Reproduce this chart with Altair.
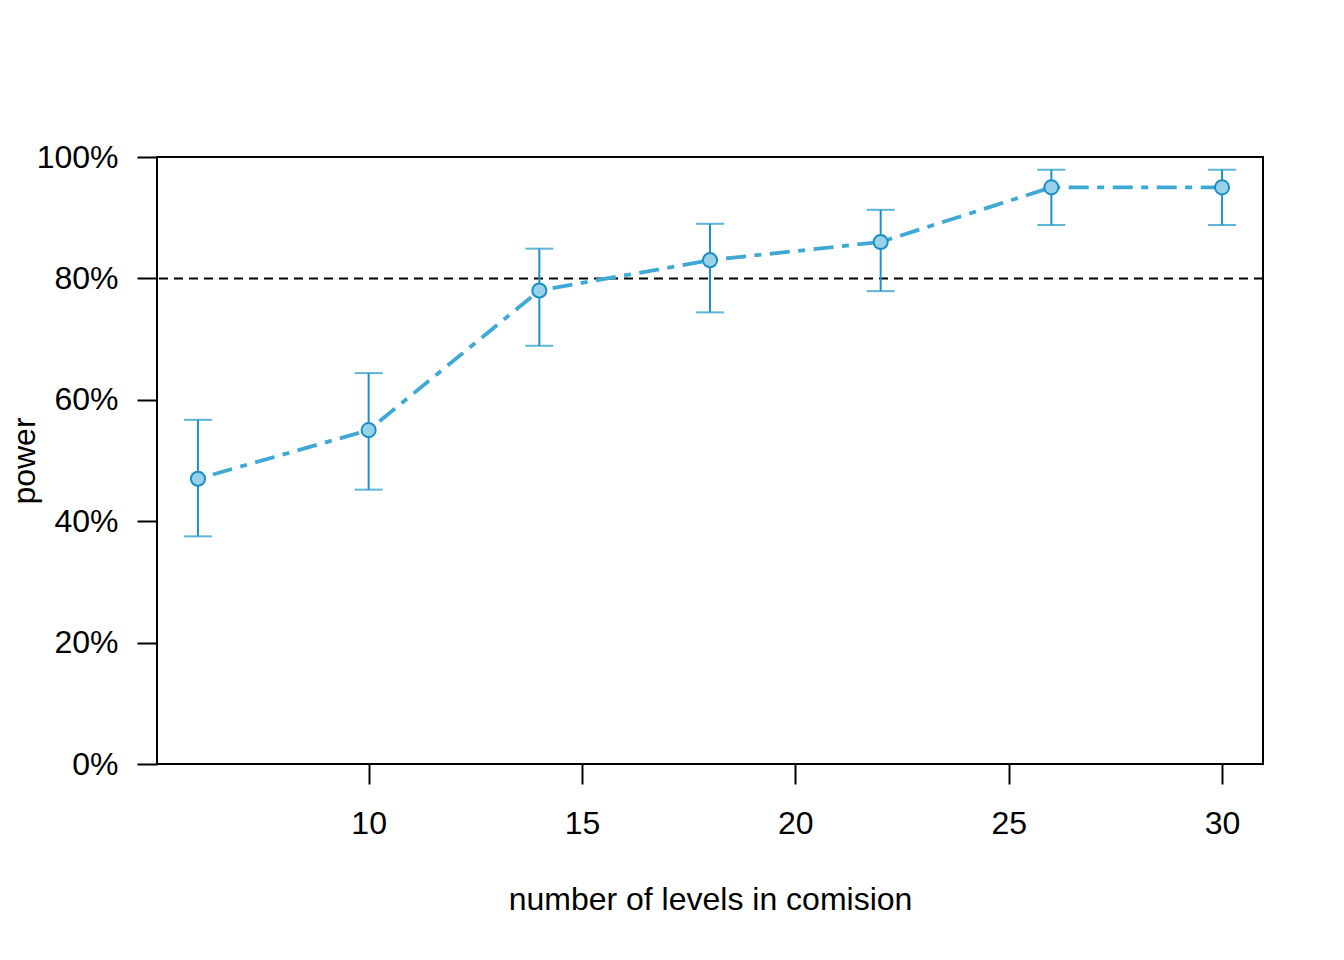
import altair as alt
import pandas as pd

levels = [6, 10, 14, 18, 22, 26, 30]
power = [0.47, 0.55, 0.78, 0.83, 0.86, 0.95, 0.95]
lower = [0.375, 0.452, 0.689, 0.744, 0.779, 0.888, 0.888]
upper = [0.567, 0.644, 0.849, 0.890, 0.913, 0.979, 0.979]
target = [0.8]
x_ticks = [10, 15, 20, 25, 30]
y_ticks = [0, 0.2, 0.4, 0.6, 0.8, 1.0]

df = pd.DataFrame({"levels": levels, "power": power, "lower": lower, "upper": upper})
ref = pd.DataFrame({"target": target})

FONT = "Liberation Sans"
FS = 32
LINE_COL = "#3fa9d6"
BAR_COL = "#1a95c9"
FILL_COL = "#98d1ea"

xscale = alt.Scale(domain=[5.04, 30.96], nice=False, zero=False)
yscale = alt.Scale(domain=[0, 1], nice=False, zero=True)

xenc = alt.X(
    "levels:Q",
    scale=xscale,
    title="number of levels in comision",
    axis=alt.Axis(
        values=x_ticks, tickSize=20, tickWidth=2, tickColor="black",
        domain=False, grid=False, labelFontSize=FS, labelFont=FONT,
        labelColor="black", labelPadding=24, labelFlush=False,
        titleFontSize=FS, titleFont=FONT, titleFontWeight="normal",
        titleColor="black", titleX=553, titleY=145, titleAlign="center",
        titleBaseline="alphabetic",
    ),
)
yenc = alt.Y(
    "power:Q",
    scale=yscale,
    title="power",
    axis=alt.Axis(
        values=y_ticks, format=".0%", tickSize=20, tickWidth=2, tickColor="black",
        domain=False, grid=False, labelFontSize=FS, labelFont=FONT,
        labelColor="black", labelPadding=19, labelBaseline="middle", labelFlush=False,
        titleFontSize=FS, titleFont=FONT, titleFontWeight="normal",
        titleColor="black", titleX=-123, titleY=303.5, titleAngle=270,
        titleAlign="center", titleBaseline="alphabetic",
    ),
)

refline = alt.Chart(ref).mark_rule(color="black", strokeWidth=2, strokeDash=[9, 6]).encode(
    y=alt.Y("target:Q", scale=yscale)
)

line = alt.Chart(df).mark_line(
    color=LINE_COL, strokeWidth=3.8, strokeDash=[7, 8.5, 20, 8.5], strokeCap="butt"
).encode(x=xenc, y=yenc)

bars = alt.Chart(df).mark_rule(color=BAR_COL, strokeWidth=2).encode(
    x=alt.X("levels:Q", scale=xscale),
    y=alt.Y("lower:Q", scale=yscale),
    y2="upper:Q",
)

cap_lo = alt.Chart(df).mark_tick(color=BAR_COL, size=28, thickness=2, orient="horizontal").encode(
    x=alt.X("levels:Q", scale=xscale),
    y=alt.Y("lower:Q", scale=yscale),
)
cap_hi = alt.Chart(df).mark_tick(color=BAR_COL, size=28, thickness=2, orient="horizontal").encode(
    x=alt.X("levels:Q", scale=xscale),
    y=alt.Y("upper:Q", scale=yscale),
)

points = alt.Chart(df).mark_point(
    shape="circle", filled=True, fill=FILL_COL, stroke="#1a8fc6", strokeWidth=2,
    size=200, opacity=1,
).encode(x=alt.X("levels:Q", scale=xscale), y=alt.Y("power:Q", scale=yscale))

chart = alt.layer(refline, line, bars, cap_lo, cap_hi, points).properties(
    width=1106,
    height=607,
    autosize=alt.AutoSizeParams(type="none"),
    padding={"left": 149, "top": 149, "right": 73, "bottom": 188},
    background="white",
).configure_view(stroke="black", strokeWidth=2, strokeOpacity=1)

chart.save("out.html", embed_options={"renderer": "svg", "actions": False})
